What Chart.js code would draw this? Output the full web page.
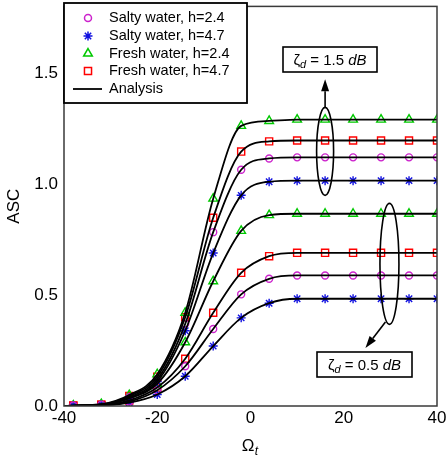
<!DOCTYPE html>
<html>
<head>
<meta charset="utf-8">
<script src="https://cdn.jsdelivr.net/npm/chart.js@4.4.0/dist/chart.umd.min.js"></script>
<style>
body { margin: 0; background: #fff; }
#wrap { width: 446px; height: 461px; }
</style>
</head>
<body>
<div id="wrap"><canvas id="myChart" width="446" height="461"></canvas></div>
<script>
// measured points (Omega_t)
var omegaT = [-38, -32, -26, -20, -14, -8, -2, 4, 10, 16, 22, 28, 34, 40];
// analysis curves start at the left axis
var omegaLine = [-40].concat(omegaT);

// zeta_d = 1.5 dB
var saltyH24Hi = [0.002, 0.006, 0.040, 0.120, 0.370, 0.783, 1.064, 1.115, 1.120, 1.120, 1.120, 1.120, 1.120, 1.120];
var saltyH47Hi = [0.001, 0.005, 0.035, 0.110, 0.339, 0.689, 0.949, 1.010, 1.015, 1.015, 1.015, 1.015, 1.015, 1.015];
var freshH24Hi = [0.002, 0.008, 0.049, 0.143, 0.420, 0.934, 1.262, 1.284, 1.290, 1.290, 1.290, 1.290, 1.290, 1.290];
var freshH47Hi = [0.002, 0.007, 0.045, 0.132, 0.400, 0.848, 1.146, 1.192, 1.196, 1.196, 1.196, 1.196, 1.196, 1.196];

// zeta_d = 0.5 dB
var saltyH24Lo = [0.001, 0.003, 0.020, 0.071, 0.179, 0.347, 0.503, 0.573, 0.588, 0.588, 0.588, 0.588, 0.588, 0.588];
var saltyH47Lo = [0.001, 0.003, 0.015, 0.052, 0.134, 0.270, 0.397, 0.463, 0.483, 0.483, 0.483, 0.483, 0.483, 0.483];
var freshH24Lo = [0.001, 0.005, 0.035, 0.100, 0.287, 0.562, 0.789, 0.860, 0.866, 0.866, 0.866, 0.866, 0.866, 0.866];
var freshH47Lo = [0.001, 0.004, 0.025, 0.083, 0.213, 0.420, 0.600, 0.675, 0.690, 0.690, 0.690, 0.690, 0.690, 0.690];

var xTicks = [-40, -20, 0, 20, 40];
var yTicks = [0, 0.5, 1.0, 1.5];

var seriesNames = ['Salty water, h=2.4', 'Salty water, h=4.7', 'Fresh water, h=2.4', 'Fresh water, h=4.7'];
var analysisName = 'Analysis';

var markerStyle = [
    { pointStyle: 'circle', radius: 3.5, color: '#cc22cc' },
    { pointStyle: 'star', radius: 4.5, color: '#1010e0' },
    { pointStyle: 'triangle', radius: 5, color: '#00c800' },
    { pointStyle: 'rect', radius: 5, color: '#ff0000' }
];

function toPoints(xs, ys) {
    return xs.map(function(x, i) { return { x: x, y: ys[i] }; });
}

var groups = [
    [saltyH24Hi, saltyH47Hi, freshH24Hi, freshH47Hi],
    [saltyH24Lo, saltyH47Lo, freshH24Lo, freshH47Lo]
];

var datasets = [];
groups.forEach(function(group, g) {
    group.forEach(function(vals, s) {
        datasets.push({
            label: g === 0 ? analysisName : '',
            data: toPoints(omegaLine, [0].concat(vals)),
            showLine: true,
            borderColor: '#000',
            borderWidth: 1.8,
            pointRadius: 0,
            cubicInterpolationMode: 'monotone',
            order: 0
        });
    });
});
groups.forEach(function(group, g) {
    group.forEach(function(vals, s) {
        var m = markerStyle[s];
        datasets.push({
            label: g === 0 ? seriesNames[s] : '',
            data: toPoints(omegaT, vals),
            showLine: false,
            pointStyle: m.pointStyle,
            pointRadius: m.radius,
            pointBorderWidth: 1.4,
            borderColor: m.color,
            backgroundColor: 'rgba(0,0,0,0)',
            order: 1
        });
    });
});

function drawArrow(ctx, x1, y1, x2, y2) {
    var ang = Math.atan2(y2 - y1, x2 - x1);
    var len = 12, w = 4;
    ctx.beginPath();
    ctx.moveTo(x1, y1);
    ctx.lineTo(x2 - Math.cos(ang) * len, y2 - Math.sin(ang) * len);
    ctx.stroke();
    ctx.beginPath();
    ctx.moveTo(x2, y2);
    ctx.lineTo(x2 - Math.cos(ang) * len - Math.sin(ang) * w, y2 - Math.sin(ang) * len + Math.cos(ang) * w);
    ctx.lineTo(x2 - Math.cos(ang) * len + Math.sin(ang) * w, y2 - Math.sin(ang) * len - Math.cos(ang) * w);
    ctx.closePath();
    ctx.fill();
}

function drawZetaBox(ctx, left, top, w, h, val) {
    ctx.lineWidth = 1.6;
    ctx.strokeStyle = '#000';
    ctx.fillStyle = '#fff';
    ctx.fillRect(left, top, w, h);
    ctx.strokeRect(left, top, w, h);
    var parts = [
        { t: '\u03B6', f: '15px "Liberation Sans", Arial', dy: 0 },
        { t: 'd', f: 'italic 11px "Liberation Sans", Arial', dy: 4 },
        { t: ' = ' + val + ' ', f: '15px "Liberation Sans", Arial', dy: 0 },
        { t: 'dB', f: 'italic 15px "Liberation Sans", Arial', dy: 0 }
    ];
    var total = 0;
    parts.forEach(function(p) { ctx.font = p.f; p.w = ctx.measureText(p.t).width; total += p.w; });
    var x = left + (w - total) / 2;
    var y = top + h / 2 + 1;
    ctx.fillStyle = '#000';
    ctx.textBaseline = 'middle';
    ctx.textAlign = 'left';
    parts.forEach(function(p) { ctx.font = p.f; ctx.fillText(p.t, x, y + p.dy); x += p.w; });
}

var extras = {
    id: 'extras',
    afterDatasetsDraw: function(chart) {
        var ctx = chart.ctx;
        var a = chart.chartArea;
        var xs = chart.scales.x, ys = chart.scales.y;
        ctx.save();

        // frame
        ctx.strokeStyle = '#3a3a3a';
        ctx.lineWidth = 1.5;
        ctx.strokeRect(a.left, a.top, a.right - a.left, a.bottom - a.top);

        // legend
        ctx.fillStyle = '#fff';
        ctx.fillRect(64, 3, 183, 100);
        ctx.strokeStyle = '#000';
        ctx.lineWidth = 1.8;
        ctx.strokeRect(64, 3, 183, 100);
        ctx.font = '14.5px "Liberation Sans", Arial';
        ctx.textBaseline = 'middle';
        ctx.textAlign = 'left';
        var rowY = [18, 36, 53.5, 71, 89];
        seriesNames.forEach(function(name, i) {
            var m = markerStyle[i];
            ctx.strokeStyle = m.color;
            ctx.fillStyle = 'rgba(0,0,0,0)';
            ctx.lineWidth = 1.5;
            Chart.helpers.drawPoint(ctx, { pointStyle: m.pointStyle, radius: m.radius, rotation: 0, borderWidth: 1.5 }, 88, rowY[i]);
            ctx.fillStyle = '#000';
            ctx.fillText(name, 109, rowY[i]);
        });
        ctx.strokeStyle = '#000';
        ctx.lineWidth = 1.8;
        ctx.beginPath();
        ctx.moveTo(73, rowY[4]);
        ctx.lineTo(102, rowY[4]);
        ctx.stroke();
        ctx.fillStyle = '#000';
        ctx.fillText(analysisName, 109, rowY[4]);

        // annotations
        ctx.strokeStyle = '#000';
        ctx.fillStyle = '#000';
        ctx.lineWidth = 1.6;
        var c1x = xs.getPixelForValue(16), c1y = ys.getPixelForValue(1.147);
        ctx.beginPath();
        ctx.ellipse(c1x, c1y, 8.5, 44, 0, 0, Math.PI * 2);
        ctx.stroke();
        drawArrow(ctx, c1x, c1y - 44, c1x, c1y - 72);
        drawZetaBox(ctx, 283, 47, 94, 25, '1.5');

        ctx.strokeStyle = '#000';
        ctx.fillStyle = '#000';
        ctx.lineWidth = 1.6;
        var c2x = xs.getPixelForValue(29.8), c2y = ys.getPixelForValue(0.64);
        ctx.beginPath();
        ctx.ellipse(c2x, c2y, 9.5, 60.5, 0, 0, Math.PI * 2);
        ctx.stroke();
        drawArrow(ctx, c2x - 4, c2y + 58, c2x - 24, c2y + 84);
        drawZetaBox(ctx, 317, 352, 95, 25, '0.5');

        // x title: Omega with subscript t
        ctx.fillStyle = '#000';
        ctx.textBaseline = 'middle';
        ctx.font = '17px "Liberation Sans", Arial';
        var ow = ctx.measureText('\u03A9').width;
        var tx = (a.left + a.right) / 2 - (ow + 5) / 2;
        ctx.fillText('\u03A9', tx, 446);
        ctx.font = 'italic 12px "Liberation Sans", Arial';
        ctx.fillText('t', tx + ow + 0.5, 452);

        ctx.restore();
    }
};

var ctx = document.getElementById('myChart').getContext('2d');
var myChart = new Chart(ctx, {
    type: 'line',
    data: { datasets: datasets },
    options: {
        responsive: false,
        animation: false,
        layout: { padding: { top: 3, right: 9, left: 0, bottom: 0 } },
        plugins: {
            legend: { display: false },
            tooltip: { enabled: false }
        },
        scales: {
            x: {
                type: 'linear',
                min: -40,
                max: 40,
                grid: { display: false, drawTicks: false },
                border: { display: false },
                afterBuildTicks: function(scale) {
                    scale.ticks = xTicks.map(function(v) { return { value: v }; });
                },
                afterFit: function(scale) {
                    scale.height = 55;
                    scale.paddingLeft = 0;
                    scale.paddingRight = 0;
                },
                ticks: {
                    padding: 2,
                    color: '#000',
                    maxRotation: 0,
                    font: { family: '"Liberation Sans", Arial', size: 17 },
                    callback: function(v) { return String(v); }
                }
            },
            y: {
                type: 'linear',
                min: 0,
                max: 1.8,
                grid: { display: false, drawTicks: false },
                border: { display: false },
                afterBuildTicks: function(scale) {
                    scale.ticks = yTicks.map(function(v) { return { value: v }; });
                },
                afterFit: function(scale) {
                    scale.width = 64;
                    scale.paddingTop = 0;
                    scale.paddingBottom = 0;
                },
                title: {
                    display: true,
                    text: 'ASC',
                    color: '#000',
                    padding: { top: 4, bottom: 0 },
                    font: { family: '"Liberation Sans", Arial', size: 17 }
                },
                ticks: {
                    padding: 6,
                    color: '#000',
                    font: { family: '"Liberation Sans", Arial', size: 17 },
                    callback: function(v) { return Number(v).toFixed(1); }
                }
            }
        }
    },
    plugins: [extras]
});
</script>
</body>
</html>
